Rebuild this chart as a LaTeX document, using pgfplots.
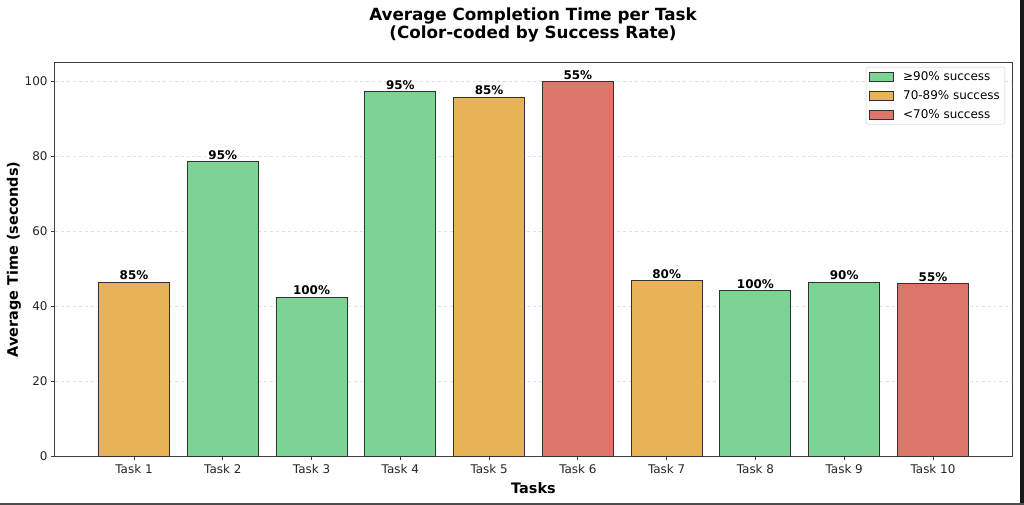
\documentclass[border=0pt]{standalone}
\usepackage{fontspec}
\setmainfont{DejaVu Sans}
\usepackage{pgfplots}
\pgfplotsset{compat=1.18}
\definecolor{cgreen}{RGB}{123,211,148}
\definecolor{corange}{RGB}{232,178,87}
\definecolor{cred}{RGB}{220,118,104}
\definecolor{cedge}{RGB}{50,50,50}
\begin{document}
\begin{tikzpicture}[x=1bp,y=1bp]
\useasboundingbox (-55,-48.5) rectangle (969,456.5);
\begin{axis}[
  at={(0,0)}, anchor=south west,
  scale only axis, width=957bp, height=394bp,
  xmin=-0.89, xmax=9.89, ymin=0, ymax=105,
  ybar, bar width=0.8, bar shift=0pt,
  xtick={0,...,9},
  xticklabels={Task 1,Task 2,Task 3,Task 4,Task 5,Task 6,Task 7,Task 8,Task 9,Task 10},
  ytick={0,20,40,60,80,100},
  /pgf/number format/assume math mode=true,
  tick label style={font=\fontsize{12}{14}\selectfont, text=black!85},
  xtick pos=bottom, ytick pos=left,
  tick align=outside, major tick length=4bp,
  tick style={black!75, line width=0.8bp},
  axis line style={black!75, line width=1bp},
  ymajorgrids, major grid style={dashed, black!12, line width=0.6bp},
  xlabel={Tasks}, ylabel={Average Time (seconds)},
  xlabel style={font=\bfseries\fontsize{14.5}{17}\selectfont, at={(axis description cs:0.5,-0.08)}, anchor=center},
  ylabel style={font=\bfseries\fontsize{14.5}{17}\selectfont, at={(axis description cs:-0.0428,0.5)}, anchor=center},
  point meta=explicit symbolic,
  nodes near coords={\pgfplotspointmeta\%},
  nodes near coords style={font=\bfseries\fontsize{12}{14}\selectfont, inner sep=1.5bp, text=black},
  legend style={at={(rel axis cs:0.9927,0.9886)}, anchor=north east, draw=black!20, rounded corners=2bp,
    fill=white, font=\fontsize{12}{14}\selectfont, cells={anchor=west}, inner xsep=3bp, inner ysep=2.5bp, row sep=4.5bp},
  legend image code/.code={\draw[#1, sharp corners] (0bp,-4.5bp) rectangle (24bp,4.5bp); \path (31bp,0bp);},
]
\addplot[fill=cgreen, draw=cedge, line width=1bp] table[x=x, y=y, meta=m] {
x y m
1 78.5 95
2 42.5 100
3 97.3 95
7 44.2 100
8 46.5 90
};
\addlegendentry{≥90\% success}
\addplot[fill=corange, draw=cedge, line width=1bp] table[x=x, y=y, meta=m] {
x y m
0 46.5 85
4 95.8 85
6 46.8 80
};
\addlegendentry{70-89\% success}
\addplot[fill=cred, draw=cedge, line width=1bp] table[x=x, y=y, meta=m] {
x y m
5 100 55
9 46.1 55
};
\addlegendentry{<70\% success}
\end{axis}
\node[font=\bfseries\fontsize{16.8}{20}\selectfont, anchor=base] at (478,436) {Average Completion Time per Task};
\node[font=\bfseries\fontsize{16.8}{20}\selectfont, anchor=base] at (478,418) {(Color-coded by Success Rate)};
\fill[black!90] (965,-48.5) rectangle (969,456.5);
\fill[black!70] (-55,-48.5) rectangle (969,-46.5);
\end{tikzpicture}
\end{document}
